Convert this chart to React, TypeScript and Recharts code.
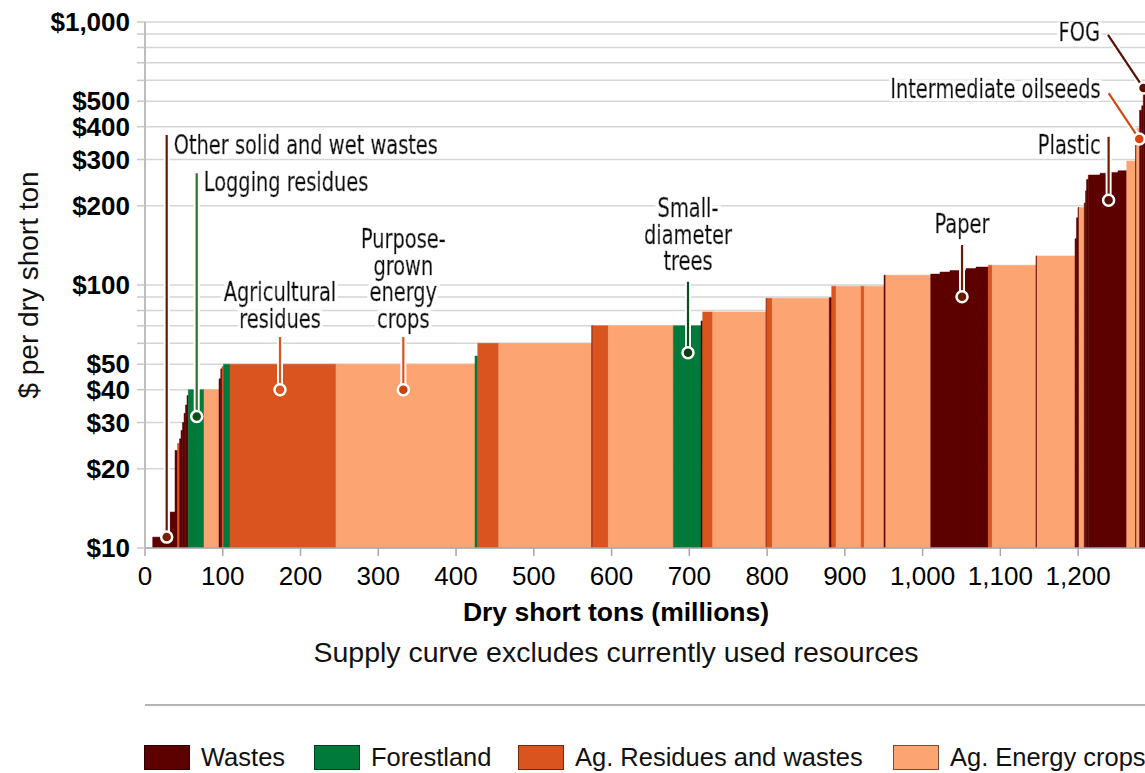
import React from 'react';
import {
  ComposedChart,
  XAxis,
  YAxis,
  CartesianGrid,
  ReferenceArea,
  ReferenceLine,
  Scatter,
  Label,
} from 'recharts';

// ---------- data ----------
const categories = ['Wastes', 'Forestland', 'Ag. Residues and wastes', 'Ag. Energy crops'];

// cumulative supply (million dry short tons) at each step boundary
const tonBreaks = [
  9.9, 32.2, 38.6, 41.8, 44.4, 46.3, 48.2, 50.2, 52.1, 54.0, 55.7, 75.9, 95.2, 97.4, 99.0,
  101.0, 109.3, 245.6, 424.4, 427.9, 454.9, 574.5, 575.7, 595.8, 679.4, 715.0, 717.2, 730.1,
  798.6, 799.5, 806.7, 880.0, 883.1, 888.7, 920.9, 925.0, 950.4, 952.6, 1010.4, 1022.4,
  1035.2, 1055.8, 1068.7, 1084.5, 1089.6, 1145.8, 1147.1, 1196.0, 1197.9, 1199.8, 1201.1,
  1207.9, 1209.5, 1210.8, 1213.1, 1228.1, 1241.0, 1251.3, 1262.5, 1273.8, 1275.1, 1279.0,
  1281.8, 1283.8, 1286.0,
];
// price ($ per dry short ton) of each step
const prices = [
  11, 13.7, 23.5, 25, 26, 28, 30, 32.5, 35, 38, 40, 40, 44, 48, 49, 50, 50, 50, 53.7, 60, 60,
  70, 70, 70, 70, 73, 79, 79, 89, 89, 89, 89.5, 99, 99, 99, 99, 109, 109, 110, 112, 113.5,
  115.5, 117, 119, 119, 129, 129, 150, 180, 197, 197, 205, 228, 252, 262, 266, 268, 272, 296,
  340, 394, 462, 480, 586,
];
// category index of each step (0 Wastes, 1 Forestland, 2 Ag residues, 3 Energy crops)
const stepTypes = [
  0, 0, 0, 2, 0, 0, 0, 0, 0, 0, 1, 3, 0, 0, 2, 1, 2, 3, 1, 2, 3, 0, 2, 3, 1, 0, 2, 3, 0, 2, 3,
  0, 2, 3, 2, 3, 0, 3, 0, 0, 0, 0, 0, 2, 3, 0, 3, 0, 0, 0, 3, 0, 0, 0, 0, 0, 0, 0, 3, 0, 3, 0,
  0, 0,
];

const xTicks = [0, 100, 200, 300, 400, 500, 600, 700, 800, 900, 1000, 1100, 1200];
const yGridTicks = [
  10, 20, 30, 40, 50, 60, 70, 80, 90, 100, 200, 300, 400, 500, 600, 700, 800, 900, 1000,
];
const yLabeledTicks = [10, 20, 30, 40, 50, 100, 200, 300, 400, 500, 1000];

// annotations: label text lines, marker point and leader-line top (data units)
const annoLines = [
  ['Other solid and wet wastes'],
  ['Logging residues'],
  ['Agricultural', 'residues'],
  ['Purpose-', 'grown', 'energy', 'crops'],
  ['Small-', 'diameter', 'trees'],
  ['Paper'],
  ['Plastic'],
  ['Intermediate oilseeds'],
  ['FOG'],
];
const annoDotX = [27.9, 66.5, 173.6, 332.2, 698.3, 1050.7, 1239.2, 1278.6, 1284.1];
const annoDotY = [11.0, 31.6, 40, 40, 55.3, 90.3, 210, 359, 561];
const annoTopX = [27.9, 66.5, 173.6, 332.2, 698.3, 1050.7, 1239.2, 1239.2, 1238.4];
const annoTopY = [372, 266, 63.4, 63.4, 102.9, 141.9, 366, 536, 893];

// ---------- styles ----------
const fillColors = ['#5c0000', '#007a3a', '#d9541e', '#fda572'];
const legendBorders = ['#2a0000', '#00401c', '#6e2a0c', '#7a4a30'];
const leaderColors = ['#6b1500', '#2f6e2f', '#d9541e', '#d9541e', '#0b4d1a', '#6b1a00', '#6b1a00', '#d9430e', '#5a0f00'];
const dotColors = ['#7a1f00', '#0b4d1a', '#d9541e', '#c8400c', '#0b3d10', '#6b1a00', '#5a0f00', '#d9430e', '#5a0f00'];
const annoAnchor = ['start', 'start', 'middle', 'middle', 'middle', 'middle', 'end', 'end', 'end'];
const annoDx = [7, 7, 0, 0, 0, 0, -8, -8, -8];
const annoDy = [10, 9, -18, -18, -20, -21, 8, -4, -3];
const LINE_H = 26.5;
const NARROW_SCALE = 0.83;

const ARIAL = "'Liberation Sans', Arial, sans-serif";
const NARROW = "'Liberation Sans Narrow', 'DejaVu Sans Condensed', sans-serif";

const steps = prices.map((p, i) => ({
  x1: tonBreaks[i],
  x2: tonBreaks[i + 1],
  price: p,
  type: stepTypes[i],
}));

const dotData = annoDotX.map((x, i) => ({ x, y: annoDotY[i], i }));
const labelData = annoTopX.map((x, i) => ({ x, y: annoTopY[i], i }));

const fmtMoney = (v: number) => (yLabeledTicks.includes(v) ? '$' + v.toLocaleString('en-US') : '');

const DotShape = (props: any) => {
  const { cx, cy, payload } = props;
  if (cx == null || cy == null) return null;
  const i = payload.i;
  return <circle cx={cx} cy={cy} r={5.5} fill={dotColors[i]} stroke="#ffffff" strokeWidth={2.5} />;
};

const LabelShape = (props: any) => {
  const { cx, cy, payload } = props;
  if (cx == null || cy == null) return null;
  const i = payload.i;
  const lines = annoLines[i];
  const anchor = annoAnchor[i];
  const x = cx + annoDx[i];
  const n = lines.length;
  const firstY = anchor === 'middle' ? cy + annoDy[i] - (n - 1) * LINE_H : cy + annoDy[i];
  return (
    <g transform={`translate(${x},${firstY}) scale(${NARROW_SCALE},1)`}>
      {i === 0 ? (
        <defs>
          <filter id="annoHalo" x="-10%" y="-30%" width="120%" height="160%">
            <feMorphology in="SourceAlpha" operator="dilate" radius="3.2" result="dil" />
            <feFlood floodColor="#ffffff" result="white" />
            <feComposite in="white" in2="dil" operator="in" result="halo" />
            <feMerge>
              <feMergeNode in="halo" />
              <feMergeNode in="SourceGraphic" />
            </feMerge>
          </filter>
        </defs>
      ) : null}
      <text
        x={0}
        y={0}
        textAnchor={anchor}
        dominantBaseline="central"
        fontFamily={NARROW}
        fontSize={26}
        fill="#111111"
        stroke="#111111"
        strokeWidth={0.6}
        filter="url(#annoHalo)"
      >
        {lines.map((t, k) => (
          <tspan key={k} x={0} dy={k === 0 ? 0 : LINE_H}>
            {t}
          </tspan>
        ))}
      </text>
    </g>
  );
};

const AxisTitles = () => (
  <g>
    <text x={616} y={621} textAnchor="middle" fontFamily={ARIAL} fontWeight="bold" fontSize={26.5} fill="#000">
      Dry short tons (millions)
    </text>
    <text x={616} y={662} textAnchor="middle" fontFamily={ARIAL} fontSize={28.5} fill="#111">
      Supply curve excludes currently used resources
    </text>
  </g>
);

const YTitle = () => (
  <text
    x={28}
    y={285}
    transform="rotate(-90 28 285)"
    textAnchor="middle"
    dominantBaseline="central"
    fontFamily={ARIAL}
    fontSize={28}
    fill="#111"
  >
    $ per dry short ton
  </text>
);

const legendRectX = [144, 314, 518, 893];

export default function App() {
  return (
    <div style={{ position: 'absolute', left: 0, top: 0, width: 1145, height: 773, overflow: 'hidden', background: '#fff' }}>
      <ComposedChart
        width={1145}
        height={773}
        margin={{ top: 22, right: 0, bottom: 185, left: 0 }}
      >
        <CartesianGrid vertical={false} stroke="#d6d6d6" strokeWidth={1.5} />
        <XAxis
          type="number"
          dataKey="x"
          domain={[0, 1286]}
          ticks={xTicks}
          interval={0}
          allowDataOverflow
          height={40}
          tickSize={8}
          tickMargin={11}
          tickFormatter={(v: number) => v.toLocaleString('en-US')}
          axisLine={{ stroke: '#a8a8a8', strokeWidth: 1.5 }}
          tickLine={{ stroke: '#a8a8a8', strokeWidth: 1.5 }}
          tick={{ fontFamily: ARIAL, fontSize: 26, fill: '#000' }}
        >
          <Label content={<AxisTitles />} />
        </XAxis>
        <YAxis
          type="number"
          dataKey="y"
          scale="log"
          domain={[10, 1000]}
          ticks={yGridTicks}
          interval={0}
          allowDataOverflow
          width={145}
          tickSize={8}
          tickMargin={7}
          tickFormatter={fmtMoney}
          axisLine={{ stroke: '#a8a8a8', strokeWidth: 1.5 }}
          tickLine={{ stroke: '#c8c8c8', strokeWidth: 1.5 }}
          tick={{ fontFamily: ARIAL, fontSize: 26, fontWeight: 'bold', fill: '#000' }}
        >
          <Label content={<YTitle />} />
        </YAxis>
        {steps.map((s, i) => (
          <ReferenceArea
            key={'s' + i}
            x1={s.x1}
            x2={s.x2}
            y1={10}
            y2={s.price}
            fill={fillColors[s.type]}
            fillOpacity={1}
            stroke={fillColors[s.type]}
            strokeWidth={0.5}
            strokeOpacity={1}
            ifOverflow="hidden"
          />
        ))}
        {annoTopX.map((x, i) => (
          <ReferenceLine
            key={'h' + i}
            segment={[
              { x, y: annoTopY[i] },
              { x: annoDotX[i], y: annoDotY[i] },
            ]}
            stroke="#ffffff"
            strokeWidth={6}
            ifOverflow="visible"
          />
        ))}
        {annoTopX.map((x, i) => (
          <ReferenceLine
            key={'l' + i}
            segment={[
              { x, y: annoTopY[i] },
              { x: annoDotX[i], y: annoDotY[i] },
            ]}
            stroke={leaderColors[i]}
            strokeWidth={2.2}
            ifOverflow="visible"
          />
        ))}
        <Scatter data={dotData} dataKey="y" shape={<DotShape />} isAnimationActive={false} />
        <Scatter data={labelData} dataKey="y" shape={<LabelShape />} isAnimationActive={false} />
      </ComposedChart>
      <div style={{ position: 'absolute', left: 145, top: 704, width: 1000, height: 2, background: '#b4b4b4' }} />
      {categories.map((c, i) => (
        <div key={c} style={{ position: 'absolute', left: legendRectX[i], top: 744, height: 27, display: 'flex', alignItems: 'center' }}>
          <div
            style={{
              width: 44,
              height: 23,
              background: fillColors[i],
              border: '1.5px solid ' + legendBorders[i],
              marginRight: 11,
            }}
          />
          <span style={{ fontFamily: ARIAL, fontSize: 25.5, color: '#111', whiteSpace: 'nowrap' }}>{c}</span>
        </div>
      ))}
    </div>
  );
}
